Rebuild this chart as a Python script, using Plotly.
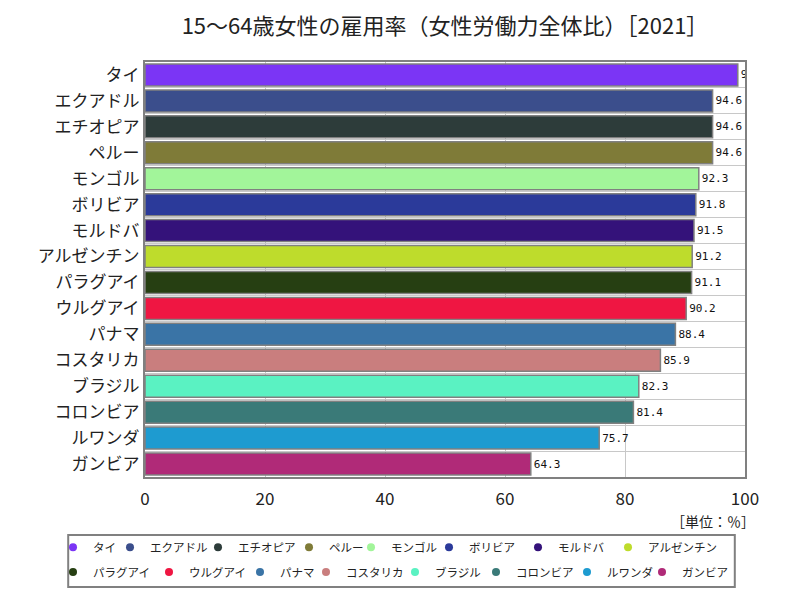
import plotly.graph_objects as go

# 15-64歳女性の雇用率（女性労働力全体比）2021
countries = ['タイ', 'エクアドル', 'エチオピア', 'ペルー', 'モンゴル', 'ボリビア',
             'モルドバ', 'アルゼンチン', 'パラグアイ', 'ウルグアイ', 'パナマ',
             'コスタリカ', 'ブラジル', 'コロンビア', 'ルワンダ', 'ガンビア']
rates = [98.8, 94.6, 94.6, 94.6, 92.3, 91.8, 91.5, 91.2, 91.1, 90.2, 88.4,
         85.9, 82.3, 81.4, 75.7, 64.3]
colors = ['#7b35f5', '#3b4e8c', '#2d3c3a', '#7f7b38', '#a2f59a', '#2b3a9a',
          '#34127a', '#bedc2c', '#263f12', '#ef1642', '#3a74a6', '#c97e7e',
          '#5af2c2', '#3a7a78', '#1e9bd0', '#b02a78']
x_ticks = [0, 20, 40, 60, 80, 100]

# legend layout: one small legend per entry, so the entries sit in two
# compact rows like the original (marker centre, in page pixels)
legend_marker_px = [73, 130, 218, 309, 371, 449, 538, 628,
                    73, 169, 260, 326, 415, 496, 587, 662]
legend_row_y = [-0.169, -0.229]

fig = go.Figure()

leg_common = dict(orientation='h', xanchor='left', yanchor='middle',
                  bgcolor='rgba(0,0,0,0)', borderwidth=0,
                  font=dict(family='Noto Sans CJK JP', size=11.5, color='#222'),
                  itemwidth=30, tracegroupgap=0)
legends = {}

for i, (name, val, col) in enumerate(zip(countries, rates, colors)):
    fig.add_trace(go.Bar(
        x=[val], y=[name], orientation='h', name=name,
        marker=dict(color=col, line=dict(color='#808080', width=1.5)),
        text=[f'{val:.1f}'], textposition='outside', constraintext='none',
        cliponaxis=True,
        textfont=dict(family='DejaVu Sans Mono', size=11, color='#111'),
        showlegend=False,
    ))
    leg_id = 'legend' if i == 0 else f'legend{i + 1}'
    fig.add_trace(go.Scatter(
        x=[None], y=[None], mode='markers', name=name,
        marker=dict(color=col, size=8, symbol='circle'),
        legend=leg_id,
    ))
    legends[leg_id] = dict(leg_common,
                           x=(legend_marker_px[i] - 28 - 137) / 600,
                           y=legend_row_y[i // 8])

fig.update_layout(
    width=800, height=600,
    margin=dict(l=137, r=63, t=54, b=131, autoexpand=False),
    paper_bgcolor='white', plot_bgcolor='white',
    bargap=0.15,
    title=dict(text='15～64歳女性の雇用率（女性労働力全体比）［2021］',
               x=0.5, xref='paper', y=0.97, yanchor='middle',
               font=dict(family='Noto Sans CJK JP', size=22, color='#222')),
    xaxis=dict(range=[0, 100], tickvals=x_ticks, showgrid=True,
               gridcolor='#c8c8c8', gridwidth=1,
               showline=True, mirror=True, linecolor='#808080', linewidth=2,
               zeroline=False, ticks='outside', ticklen=6, tickcolor='white',
               tickfont=dict(family='Noto Sans CJK JP', size=17, color='#222')),
    yaxis=dict(type='category', categoryorder='array', categoryarray=countries,
               autorange='reversed', tickson='boundaries', showgrid=True,
               gridcolor='#c8c8c8', gridwidth=1,
               showline=True, mirror=True, linecolor='#808080', linewidth=2,
               ticks='',
               tickfont=dict(family='Noto Sans CJK JP', size=17, color='#222')),
    shapes=[dict(type='rect', xref='paper', yref='paper', x0=-0.128, x1=0.983,
                 y0=-0.265, y1=-0.1398, line=dict(color='#808080', width=2),
                 layer='below')],
    annotations=[dict(text='［単位：％］', xref='paper', yref='paper', x=1.02, y=-0.107,
                      xanchor='right', yanchor='middle', showarrow=False,
                      font=dict(family='Noto Sans CJK JP', size=14, color='#222'))],
    **legends,
)

fig.write_html('out.html')
